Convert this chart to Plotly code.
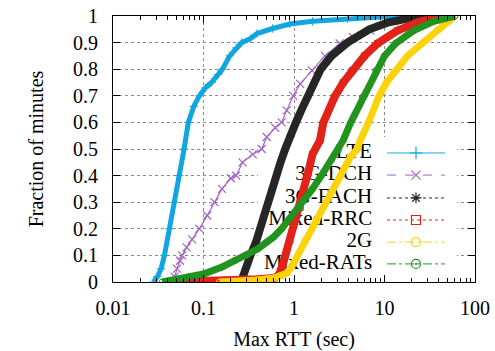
import plotly.graph_objects as go

# ---- data ----
series_names = ["LTE", "3G-DCH", "3G-FACH", "Mixed-RRC", "2G", "Mixed-RATs"]

lte_x = [0.028, 0.031, 0.034, 0.037, 0.042, 0.048, 0.054, 0.061, 0.068, 0.078, 0.090,
         0.105, 0.123, 0.145, 0.162, 0.195, 0.23, 0.264, 0.33, 0.39, 0.58, 0.9, 1.6, 3.9, 10, 25]
lte_y = [0, 0.02, 0.05, 0.1, 0.2, 0.3, 0.4, 0.5, 0.6, 0.66, 0.7,
         0.73, 0.75, 0.78, 0.8, 0.85, 0.88, 0.9, 0.915, 0.934, 0.953, 0.97, 0.98, 0.99, 0.997, 1.0]

dch_x = [0.044, 0.048, 0.051, 0.055, 0.058, 0.065, 0.075, 0.090, 0.11, 0.132, 0.16, 0.20,
         0.23, 0.27, 0.35, 0.44, 0.50, 0.62, 0.73, 0.83, 0.98, 1.17, 1.58, 2.2, 3.2, 4.5, 7.0, 12.6, 20]
dch_y = [0, 0.02, 0.05, 0.08, 0.1, 0.13, 0.16, 0.2, 0.25, 0.3, 0.35, 0.39,
         0.4, 0.45, 0.48, 0.5, 0.545, 0.58, 0.6, 0.645, 0.7, 0.745, 0.795, 0.85, 0.897, 0.92, 0.945, 0.98, 1.0]

fach_x = [0.26, 0.27, 0.29, 0.33, 0.38, 0.42, 0.46, 0.52, 0.57, 0.64, 0.71, 0.80, 0.90,
          1.05, 1.22, 1.45, 1.65, 1.97, 2.6, 3.9, 6.8, 10.8, 18, 42]
fach_y = [0, 0.02, 0.05, 0.1, 0.15, 0.2, 0.25, 0.3, 0.35, 0.4, 0.45, 0.5, 0.55,
          0.6, 0.65, 0.7, 0.75, 0.8, 0.85, 0.9, 0.95, 0.975, 0.99, 1.0]

rrc_x = [0.04, 0.12, 0.2, 0.4, 0.6, 0.68, 0.76, 0.9, 1.0, 1.17, 1.3, 1.43, 1.6, 1.94,
         2.1, 2.8, 3.5, 4.4, 6.0, 8.4, 13.9, 25, 50]
rrc_y = [0, 0.003, 0.005, 0.01, 0.015, 0.025, 0.07, 0.157, 0.22, 0.28, 0.35, 0.41, 0.48, 0.533,
         0.597, 0.695, 0.75, 0.795, 0.85, 0.897, 0.945, 0.98, 1.0]

g2_x = [0.15, 0.25, 0.4, 0.6, 0.75, 0.84, 0.95, 1.08, 1.32, 1.6, 2.1, 2.7, 3.4, 4.2,
        5.0, 5.4, 6.6, 8.6, 10.5, 13.3, 18, 26, 38, 52, 60]
g2_y = [0, 0.003, 0.008, 0.015, 0.025, 0.034, 0.06, 0.095, 0.157, 0.21, 0.28, 0.35, 0.41, 0.47,
        0.5, 0.533, 0.597, 0.695, 0.75, 0.795, 0.85, 0.897, 0.945, 0.98, 1.0]

rats_x = [0.035, 0.05, 0.07, 0.1, 0.16, 0.22, 0.30, 0.4, 0.5, 0.6, 0.73, 0.9, 1.17, 1.6,
          2.1, 2.6, 3.1, 3.5, 4.2, 4.7, 5.7, 8.0, 10, 13.3, 21, 35, 60]
rats_y = [0, 0.01, 0.02, 0.03, 0.056, 0.08, 0.1, 0.125, 0.15, 0.17, 0.2, 0.24, 0.28, 0.35,
          0.41, 0.46, 0.495, 0.533, 0.597, 0.63, 0.695, 0.795, 0.85, 0.897, 0.945, 0.98, 1.0]

x_tickvals = [0.01, 0.1, 1, 10, 100]
x_ticktext = ["0.01", "0.1", "1", "10", "100"]
y_tickvals = [0, 0.1, 0.2, 0.3, 0.4, 0.5, 0.6, 0.7, 0.8, 0.9, 1]
y_ticktext = ["0", "0.1", "0.2", "0.3", "0.4", "0.5", "0.6", "0.7", "0.8", "0.9", "1"]

# ---- styles ----
FONT = "Liberation Serif, Times New Roman, Times, serif"
colors = ["#12a5e0", "#a262c4", "#262626", "#e2231a", "#fbd30a", "#23931f"]
curve_widths = [5, 1.2, 8, 8, 7, 7]
symbols = ["cross-thin", "x-thin", "asterisk-open", "square-open", "circle-open", "circle-open-dot"]
legend_dash = ["solid", "dash", "dot", "dot", "dashdot", "dashdot"]

xs = [lte_x, dch_x, fach_x, rrc_x, g2_x, rats_x]
ys = [lte_y, dch_y, fach_y, rrc_y, g2_y, rats_y]

fig = go.Figure()

# --- legend (drawn on base axes, beneath curves) ---
fig.add_trace(go.Scatter(x=[0.40, 0.95, 0.95, 0.40, 0.40], y=[0.023, 0.023, 0.545, 0.545, 0.023],
                         fill="toself", fillcolor="white", line=dict(width=0),
                         mode="lines", hoverinfo="skip", showlegend=False, xaxis="x", yaxis="y"))
row_y = [0.485, 0.402, 0.316, 0.233, 0.15, 0.068]
for i, name in enumerate(series_names):
    fig.add_trace(go.Scatter(x=[0.757, 0.917], y=[row_y[i], row_y[i]], mode="lines",
                             line=dict(color=colors[i], width=1, dash=legend_dash[i]),
                             hoverinfo="skip", showlegend=False, xaxis="x", yaxis="y"))
    fig.add_trace(go.Scatter(x=[0.837], y=[row_y[i]], mode="markers",
                             marker=dict(symbol=symbols[i], size=9, color=colors[i],
                                         line=dict(color=colors[i], width=1.2)),
                             hoverinfo="skip", showlegend=False, xaxis="x", yaxis="y"))
    fig.add_trace(go.Scatter(x=[0.716], y=[row_y[i]], mode="text", text=[name],
                             textposition="middle left",
                             textfont=dict(family=FONT, size=21, color="black"),
                             hoverinfo="skip", showlegend=False, xaxis="x", yaxis="y"))

# --- data curves (overlay axes) ---
for i, name in enumerate(series_names):
    if i == 1:
        fig.add_trace(go.Scatter(x=xs[i], y=ys[i], mode="lines+markers", name=name,
                                 line=dict(color=colors[i], width=1.2),
                                 marker=dict(symbol="x-thin", size=8,
                                             line=dict(color=colors[i], width=1.2)),
                                 showlegend=False, xaxis="x2", yaxis="y2"))
    else:
        fig.add_trace(go.Scatter(x=xs[i], y=ys[i], mode="lines+markers", name=name,
                                 line=dict(color=colors[i], width=curve_widths[i]),
                                 marker=dict(symbol=symbols[i], size=6, color=colors[i],
                                             line=dict(color=colors[i], width=1)),
                                 showlegend=False, xaxis="x2", yaxis="y2"))

fig.update_layout(
    template="none",
    width=495, height=351,
    margin=dict(l=113, r=20, t=16, b=69),
    paper_bgcolor="white", plot_bgcolor="white",
    font=dict(family=FONT, size=20, color="black"),
    hovermode=False,
    xaxis=dict(range=[0, 1], visible=False, fixedrange=True, automargin=False),
    yaxis=dict(range=[0, 1], visible=False, fixedrange=True, automargin=False),
    xaxis2=dict(type="log", range=[-2, 2], overlaying="x", side="bottom", automargin=False,
                tickvals=x_tickvals, ticktext=x_ticktext, ticklabeloverflow="allow",
                ticks="inside", ticklen=7, tickwidth=1, tickcolor="black",
                showline=True, linecolor="black", linewidth=1, mirror="allticks",
                showgrid=True, gridcolor="#8a8a8a", griddash="dot", gridwidth=1,
                minor=dict(ticks="inside", ticklen=4, tickcolor="black", showgrid=False,
                           tickvals=[m * d for d in [0.01, 0.1, 1, 10] for m in range(2, 10)]),
                ticklabelstandoff=8,
                tickfont=dict(family=FONT, size=20),
                title=dict(text="Max RTT (sec)", font=dict(family=FONT, size=20), standoff=14),
                zeroline=False),
    yaxis2=dict(range=[0, 1], overlaying="y", side="left", automargin=False,
                tickvals=y_tickvals, ticktext=y_ticktext, ticklabeloverflow="allow",
                ticks="inside", ticklen=7, tickwidth=1, tickcolor="black",
                showline=True, linecolor="black", linewidth=1, mirror="allticks",
                showgrid=True, gridcolor="#8a8a8a", griddash="dot", gridwidth=1,
                ticklabelstandoff=10,
                tickfont=dict(family=FONT, size=20),
                title=dict(text="Fraction of minutes", font=dict(family=FONT, size=20), standoff=24),
                zeroline=False),
)

# remove the default 8px page margin so the figure sits at the window's top-left corner
fig.write_html("out.html", config={"displayModeBar": False, "staticPlot": True},
               post_script="document.body.style.margin='0px';")
